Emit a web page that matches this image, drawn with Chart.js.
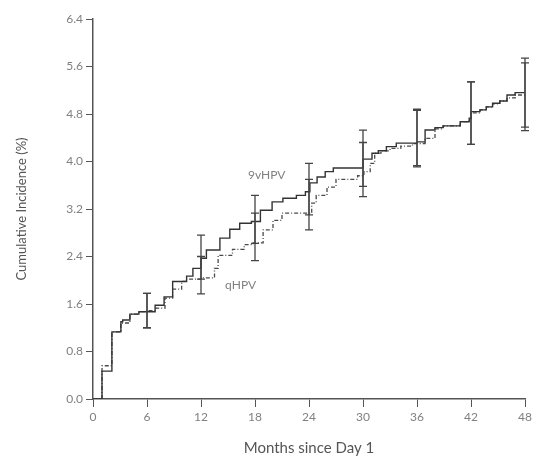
<!DOCTYPE html>
<html>
<head>
<meta charset="utf-8">
<script src="https://cdn.jsdelivr.net/npm/chart.js@4"></script>
<style>
  html, body { margin: 0; padding: 0; background: #fff; }
  #wrap { width: 546px; height: 461px; position: relative; }
</style>
</head>
<body>
<div id="wrap"><canvas id="kmChart"></canvas></div>
<script>
// 9vHPV (solid) - step times (months) and cumulative incidence (%)
let meses9v = [0, 1.0, 2.1, 3.1, 3.3, 4.1, 5.1, 6.9, 7.9, 8.85, 10.4, 11.1, 12.0, 12.6, 14.1, 15.2, 16.3, 17.6,
  18.6, 19.9, 21.1, 22.6, 23.6, 24.1, 24.9, 25.8, 26.7, 30.0, 31.0, 31.7, 32.6, 33.7, 36.0, 36.9, 38.0, 38.9,
  40.8, 41.8, 42.0, 43.0, 43.7, 44.4, 45.2, 46.0, 46.9, 48.0];
let valores9v = [0, 0.47, 1.13, 1.30, 1.33, 1.43, 1.47, 1.58, 1.72, 1.98, 2.07, 2.20, 2.37, 2.51, 2.71, 2.86, 2.96, 2.99,
  3.18, 3.32, 3.38, 3.43, 3.49, 3.64, 3.74, 3.83, 3.89, 4.04, 4.14, 4.18, 4.25, 4.31, 4.33, 4.53, 4.57, 4.60,
  4.67, 4.73, 4.84, 4.87, 4.92, 4.98, 5.02, 5.12, 5.16, 5.16];

// qHPV (dash-dot)
let mesesQ = [0, 1.0, 2.1, 3.1, 4.1, 5.1, 6.0, 7.0, 8.0, 8.85, 9.85, 10.4, 12.0, 13.5, 13.9, 15.5, 16.8, 17.8,
  18.9, 20.0, 21.0, 24.3, 24.8, 26.0, 27.0, 29.4, 30.1, 30.8, 31.3, 32.0, 33.0, 34.2, 35.5, 36.9, 38.0, 38.9,
  40.8, 41.8, 42.0, 43.0, 43.7, 44.4, 45.2, 46.0, 46.9, 48.0];
let valoresQ = [0, 0.56, 1.13, 1.28, 1.43, 1.47, 1.49, 1.53, 1.70, 1.85, 1.98, 2.02, 2.04, 2.20, 2.42, 2.52, 2.60, 2.63,
  2.85, 3.01, 3.13, 3.30, 3.43, 3.57, 3.70, 3.76, 3.83, 3.97, 4.14, 4.18, 4.22, 4.26, 4.30, 4.39, 4.55, 4.60,
  4.67, 4.72, 4.82, 4.87, 4.92, 4.97, 5.02, 5.07, 5.12, 5.12];

// 95% CI at each 6-month time point
let mesesIC = [6, 12, 18, 24, 30, 36, 42, 48];
let ic9vBaixo = [1.20, 2.02, 2.62, 3.10, 3.58, 3.93, 4.29, 4.58];
let ic9vAlto  = [1.78, 2.76, 3.43, 3.97, 4.53, 4.88, 5.34, 5.74];
let icQBaixo  = [1.20, 1.77, 2.33, 2.85, 3.41, 3.91, 4.29, 4.52];
let icQAlto   = [1.78, 2.40, 3.13, 3.70, 4.32, 4.86, 5.34, 5.66];

let ticksX = [0, 6, 12, 18, 24, 30, 36, 42, 48];
let ticksY = [0, 0.8, 1.6, 2.4, 3.2, 4.0, 4.8, 5.6, 6.4];

// series labels placed in data coordinates
let rotulos = [
  { texto: "9vHPV", mes: 19.3, valor: 3.77 },
  { texto: "qHPV", mes: 16.4, valor: 1.92 }
];

let ctx = document.getElementById("kmChart").getContext("2d");
Chart.defaults.font.family = "Lato, 'Open Sans', sans-serif";

const barrasErro = {
  id: "barrasErro",
  afterDatasetsDraw(chart) {
    let c = chart.ctx;
    let sx = chart.scales.x;
    let sy = chart.scales.y;
    c.save();
    c.strokeStyle = "#444";
    c.lineWidth = 1.3;
    let desenha = (m, lo, hi) => {
      let x = sx.getPixelForValue(m);
      let y1 = sy.getPixelForValue(lo);
      let y2 = sy.getPixelForValue(hi);
      c.beginPath();
      c.moveTo(x, y1); c.lineTo(x, y2);
      c.moveTo(x - 4, y1); c.lineTo(x + 4, y1);
      c.moveTo(x - 4, y2); c.lineTo(x + 4, y2);
      c.stroke();
    };
    for (let i = 0; i < mesesIC.length; i++) {
      desenha(mesesIC[i], ic9vBaixo[i], ic9vAlto[i]);
      desenha(mesesIC[i], icQBaixo[i], icQAlto[i]);
    }
    c.fillStyle = "#808080";
    c.font = "12px Lato, sans-serif";
    c.textAlign = "center";
    c.textBaseline = "middle";
    rotulos.forEach((r) => {
      c.fillText(r.texto, sx.getPixelForValue(r.mes), sy.getPixelForValue(r.valor));
    });
    c.restore();
  }
};

let myChart = new Chart(ctx, {
  type: "line",
  data: {
    datasets: [
      {
        label: "9vHPV",
        data: meses9v.map((m, i) => ({ x: m, y: valores9v[i] })),
        stepped: true,
        borderColor: "#333",
        borderWidth: 1.4,
        pointRadius: 0,
        fill: false
      },
      {
        label: "qHPV",
        data: mesesQ.map((m, i) => ({ x: m, y: valoresQ[i] })),
        stepped: true,
        borderColor: "#4a4a4a",
        borderWidth: 1.3,
        borderDash: [4, 2, 1, 2],
        pointRadius: 0,
        fill: false
      }
    ]
  },
  options: {
    responsive: true,
    maintainAspectRatio: false,
    animation: false,
    layout: { padding: { top: 19, right: 21, left: 0, bottom: 0 } },
    plugins: { legend: { display: false }, tooltip: { enabled: false } },
    scales: {
      x: {
        type: "linear",
        min: 0,
        max: 48,
        afterBuildTicks: (axis) => { axis.ticks = ticksX.map((v) => ({ value: v })); },
        afterFit: (axis) => { axis.height = 62; },
        ticks: { color: "#808080", font: { size: 12 }, padding: 3 },
        grid: { drawOnChartArea: false, drawTicks: true, tickLength: 8, color: "#555" },
        border: { color: "#555", width: 1.5 },
        title: { display: true, text: "Months since Day 1", color: "#555", font: { size: 15 }, padding: { top: 9 } }
      },
      y: {
        type: "linear",
        min: 0,
        max: 6.4,
        afterBuildTicks: (axis) => { axis.ticks = ticksY.map((v) => ({ value: v })); },
        afterFit: (axis) => { axis.width = 93; },
        ticks: { color: "#808080", font: { size: 12 }, padding: 3, callback: (v) => v.toFixed(1) },
        grid: { drawOnChartArea: false, drawTicks: true, tickLength: 7, color: "#555" },
        border: { color: "#555", width: 1.5 },
        title: { display: true, text: "Cumulative Incidence (%)", color: "#555", font: { size: 13 }, padding: { bottom: 0, top: 14 } }
      }
    }
  },
  plugins: [barrasErro]
});
</script>
</body>
</html>
